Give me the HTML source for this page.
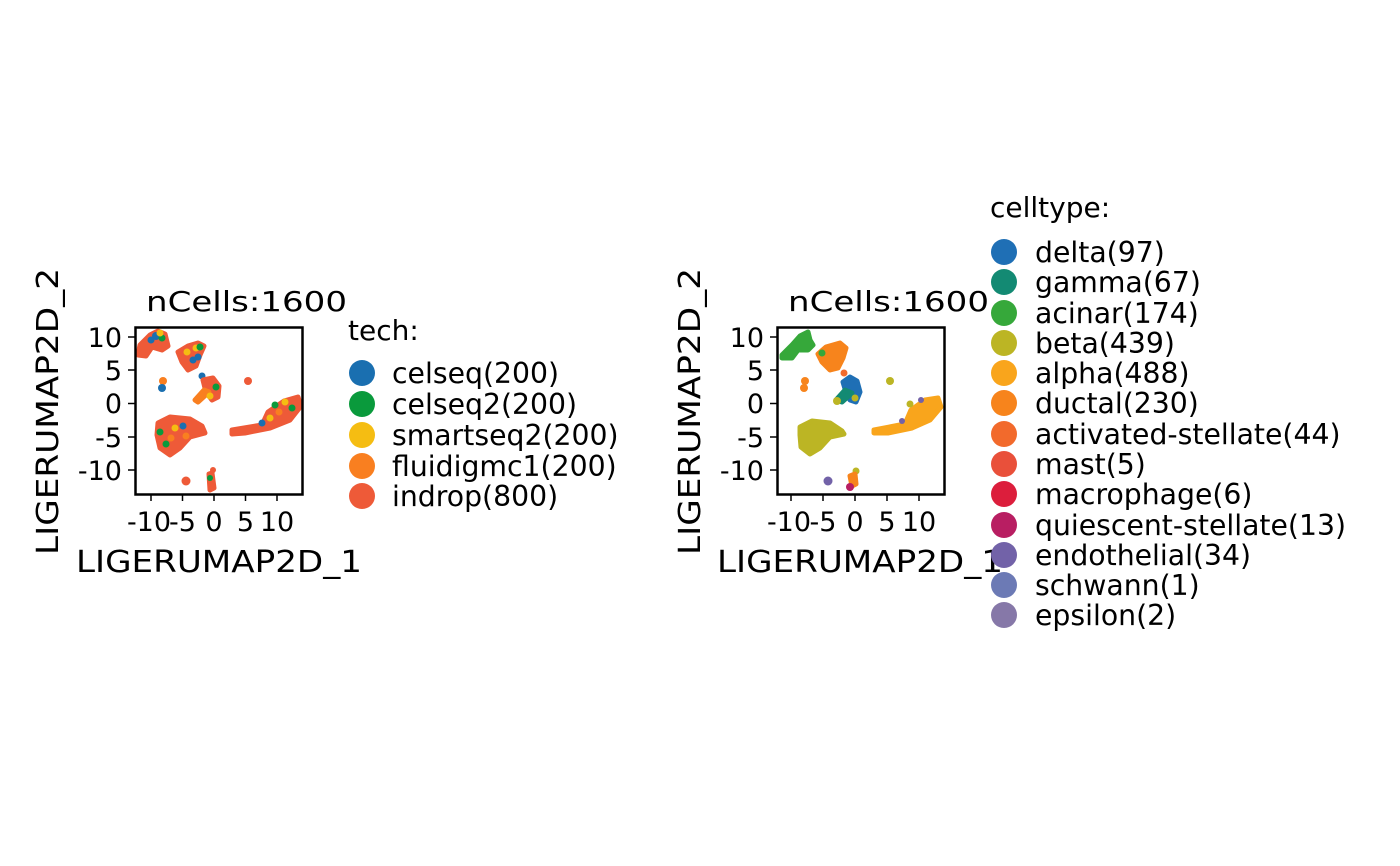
<!DOCTYPE html>
<html><head><meta charset="utf-8"><style>
html,body{margin:0;padding:0;background:#fff}
svg{display:block;font-family:"DejaVu Sans","Liberation Sans",sans-serif}
</style></head><body>
<svg width="1400" height="866" viewBox="0 0 1400 866" xmlns="http://www.w3.org/2000/svg">
<!-- LEFT PANEL -->
<g>
<text x="146" y="311" font-size="28" textLength="201" lengthAdjust="spacingAndGlyphs">nCells:1600</text>
<g stroke-linejoin="round" stroke-width="5">
<path d="M140,345 L150,335 L158,331 L165,334 L168,346 L162,350 L152,347 L146,356 L138,355 Z" fill="#ee5a38" stroke="#ee5a38"/>
<circle cx="156" cy="336" r="4" fill="#1a6fb0"/><circle cx="162" cy="338" r="3.5" fill="#0a9a3c"/><circle cx="160" cy="333" r="3.5" fill="#f5bd12"/><circle cx="151" cy="340" r="3.5" fill="#1a6fb0"/>
<path d="M178,352 L188,346 L198,343 L204,346 L200,355 L196,366 L188,370 L182,362 Z" fill="#ee5a38" stroke="#ee5a38"/>
<circle cx="196" cy="348" r="3.5" fill="#f5bd12"/><circle cx="200" cy="347" r="3.5" fill="#0a9a3c"/><circle cx="193" cy="360" r="3.5" fill="#1a6fb0"/><circle cx="198" cy="357" r="3.5" fill="#1a6fb0"/><circle cx="187" cy="352" r="3.5" fill="#f5bd12"/>
<circle cx="163" cy="381" r="4" fill="#f97f20"/><circle cx="162" cy="388" r="4" fill="#1a6fb0"/>
<circle cx="202" cy="376" r="3.5" fill="#1a6fb0"/>
<path d="M203,380 L213,378 L219,386 L218,397 L212,400 L206,392 Z" fill="#ee5a38" stroke="#ee5a38"/>
<path d="M195,400 L204,390 L209,392 L198,402 Z" fill="#f97f20" stroke="#f97f20"/>
<circle cx="216" cy="387" r="3.5" fill="#0a9a3c"/><circle cx="210" cy="396" r="3.5" fill="#f5bd12"/>
<path d="M158,423 L170,417 L190,419 L202,426 L205,433 L190,437 L180,448 L170,455 L160,448 L157,435 Z" fill="#ee5a38" stroke="#ee5a38"/>
<circle cx="175" cy="428" r="3.5" fill="#f5bd12"/><circle cx="186" cy="436" r="3.5" fill="#f97f20"/><circle cx="166" cy="444" r="3.5" fill="#0a9a3c"/><circle cx="183" cy="426" r="3.5" fill="#1a6fb0"/><circle cx="160" cy="432" r="3.5" fill="#0a9a3c"/><circle cx="171" cy="438" r="3.5" fill="#f97f20"/>
<path d="M232,430 L262,425 L268,412 L284,401 L298,397 L301,406 L290,420 L270,428 L245,433 L232,434 Z" fill="#ee5a38" stroke="#ee5a38"/>
<circle cx="275" cy="405" r="3.5" fill="#0a9a3c"/><circle cx="285" cy="402" r="3.5" fill="#f5bd12"/><circle cx="270" cy="418" r="3.5" fill="#f5bd12"/><circle cx="292" cy="408" r="3.5" fill="#0a9a3c"/><circle cx="279" cy="412" r="3.5" fill="#f97f20"/><circle cx="262" cy="423" r="3.5" fill="#1a6fb0"/>
<circle cx="248" cy="381" r="4" fill="#ee5a38"/>
<circle cx="186" cy="481" r="4.5" fill="#ee5a38"/>
<path d="M209,474 L212,473 L214,488 L210,490 Z" fill="#ee5a38" stroke="#ee5a38"/><circle cx="213" cy="470" r="3" fill="#ee5a38"/><circle cx="210" cy="478" r="3" fill="#0a9a3c"/>
</g>
<rect x="135.5" y="327.5" width="167" height="167" fill="none" stroke="#000" stroke-width="2.5"/>
<g stroke="#000" stroke-width="1.5">
<line x1="128" y1="337" x2="135" y2="337"/><line x1="128" y1="370" x2="135" y2="370"/><line x1="128" y1="403.5" x2="135" y2="403.5"/><line x1="128" y1="437" x2="135" y2="437"/><line x1="128" y1="470" x2="135" y2="470"/>
<line x1="151" y1="494" x2="151" y2="501"/><line x1="182.5" y1="494" x2="182.5" y2="501"/><line x1="214" y1="494" x2="214" y2="501"/><line x1="245.5" y1="494" x2="245.5" y2="501"/><line x1="277" y1="494" x2="277" y2="501"/>
</g>
<g font-size="27" text-anchor="end">
<text x="122" y="347">10</text><text x="122" y="380">5</text><text x="122" y="413">0</text><text x="122" y="447">-5</text><text x="122" y="480">-10</text>
</g>
<g font-size="27" text-anchor="middle">
<text x="149" y="531">-10</text><text x="182.5" y="531">-5</text><text x="214" y="531">0</text><text x="245.5" y="531">5</text><text x="277" y="531">10</text>
</g>
<text x="76" y="572" font-size="30" textLength="286" lengthAdjust="spacingAndGlyphs">LIGERUMAP2D_1</text>
<text transform="translate(58,555) rotate(-90)" font-size="30" textLength="287" lengthAdjust="spacingAndGlyphs">LIGERUMAP2D_2</text>
<text x="348" y="340" font-size="28">tech:</text>
<g font-size="28.3">
<circle cx="362" cy="373" r="13" fill="#1a6fb0"/><text x="392" y="383">celseq(200)</text>
<circle cx="362" cy="404" r="13" fill="#0a9a3c"/><text x="392" y="414">celseq2(200)</text>
<circle cx="362" cy="435" r="13" fill="#f5bd12"/><text x="392" y="445">smartseq2(200)</text>
<circle cx="362" cy="466" r="13" fill="#f97f20"/><text x="392" y="476">fluidigmc1(200)</text>
<circle cx="362" cy="496" r="13" fill="#ee5a38"/><text x="392" y="506">indrop(800)</text>
</g>
</g>
<!-- RIGHT PANEL -->
<g>
<text x="788" y="311" font-size="28" textLength="201" lengthAdjust="spacingAndGlyphs">nCells:1600</text>
<g stroke-linejoin="round" stroke-width="5">
<path d="M782,355 L792,345 L800,336 L808,332 L810,340 L813,345 L808,350 L798,350 L792,358 L782,358 Z" fill="#36a83a" stroke="#36a83a"/>
<path d="M818,354 L826,347 L840,343 L846,348 L843,358 L838,368 L830,370 L822,362 Z" fill="#f7841c" stroke="#f7841c"/>
<circle cx="822" cy="353" r="3.5" fill="#36a83a"/>
<circle cx="805" cy="381" r="4" fill="#f7841c"/><circle cx="804" cy="388" r="4" fill="#f7841c"/>
<circle cx="844" cy="373" r="3.5" fill="#f26a2c"/>
<path d="M843,382 L850,377 L857,381 L860,392 L856,402 L850,400 L846,392 Z" fill="#1f6fb5" stroke="#1f6fb5"/>
<path d="M836,400 L845,390 L852,393 L842,402 Z" fill="#138a73" stroke="#138a73"/>
<circle cx="837" cy="401" r="4" fill="#bcb524"/><circle cx="855" cy="398" r="3.5" fill="#bcb524"/>
<path d="M800,427 L812,421 L830,423 L842,431 L844,434 L830,437 L820,448 L810,454 L801,447 L800,435 Z" fill="#bcb524" stroke="#bcb524"/>
<path d="M874,430 L905,424 L911,410 L925,400 L938,398 L941,407 L930,420 L912,428 L888,433 L874,433 Z" fill="#f9a51c" stroke="#f9a51c"/>
<circle cx="910" cy="404" r="3.5" fill="#bcb524"/><circle cx="921" cy="400" r="3" fill="#7262a8"/><circle cx="902" cy="421" r="3" fill="#7262a8"/>
<circle cx="890" cy="381" r="4" fill="#bcb524"/>
<circle cx="828" cy="481" r="4.5" fill="#7262a8"/>
<circle cx="856" cy="471" r="3.5" fill="#bcb524"/><path d="M850,476 L855,474 L856,484 L852,486 Z" fill="#f7841c" stroke="#f7841c"/><circle cx="850" cy="487" r="4" fill="#b81e62"/>
</g>
<rect x="777.5" y="327.5" width="167" height="167" fill="none" stroke="#000" stroke-width="2.5"/>
<g stroke="#000" stroke-width="1.5">
<line x1="770" y1="337" x2="777" y2="337"/><line x1="770" y1="370" x2="777" y2="370"/><line x1="770" y1="403.5" x2="777" y2="403.5"/><line x1="770" y1="437" x2="777" y2="437"/><line x1="770" y1="470" x2="777" y2="470"/>
<line x1="791" y1="494" x2="791" y2="501"/><line x1="823" y1="494" x2="823" y2="501"/><line x1="855" y1="494" x2="855" y2="501"/><line x1="887" y1="494" x2="887" y2="501"/><line x1="919" y1="494" x2="919" y2="501"/>
</g>
<g font-size="27" text-anchor="end">
<text x="764" y="347">10</text><text x="764" y="380">5</text><text x="764" y="413">0</text><text x="764" y="447">-5</text><text x="764" y="480">-10</text>
</g>
<g font-size="27" text-anchor="middle">
<text x="789" y="531">-10</text><text x="823" y="531">-5</text><text x="855" y="531">0</text><text x="887" y="531">5</text><text x="919" y="531">10</text>
</g>
<text x="717" y="572" font-size="30" textLength="286" lengthAdjust="spacingAndGlyphs">LIGERUMAP2D_1</text>
<text transform="translate(700,555) rotate(-90)" font-size="30" textLength="287" lengthAdjust="spacingAndGlyphs">LIGERUMAP2D_2</text>
<text x="990" y="217" font-size="28">celltype:</text>
<g font-size="28.3">
<circle cx="1004" cy="252" r="13" fill="#1f6fb5"/><text x="1035" y="262">delta(97)</text>
<circle cx="1004" cy="282" r="13" fill="#138a73"/><text x="1035" y="292">gamma(67)</text>
<circle cx="1004" cy="313" r="13" fill="#36a83a"/><text x="1035" y="323">acinar(174)</text>
<circle cx="1004" cy="343" r="13" fill="#bcb524"/><text x="1035" y="353">beta(439)</text>
<circle cx="1004" cy="373" r="13" fill="#f9a51c"/><text x="1035" y="383">alpha(488)</text>
<circle cx="1004" cy="403" r="13" fill="#f7841c"/><text x="1035" y="413">ductal(230)</text>
<circle cx="1004" cy="434" r="13" fill="#f26a2c"/><text x="1035" y="444">activated-stellate(44)</text>
<circle cx="1004" cy="464" r="13" fill="#e9503a"/><text x="1035" y="474">mast(5)</text>
<circle cx="1004" cy="494" r="13" fill="#dc1e3c"/><text x="1035" y="504">macrophage(6)</text>
<circle cx="1004" cy="525" r="13" fill="#b81e62"/><text x="1035" y="535">quiescent-stellate(13)</text>
<circle cx="1004" cy="555" r="13" fill="#7262a8"/><text x="1035" y="565">endothelial(34)</text>
<circle cx="1004" cy="585" r="13" fill="#6c7ab5"/><text x="1035" y="595">schwann(1)</text>
<circle cx="1004" cy="615" r="13" fill="#8678a8"/><text x="1035" y="625">epsilon(2)</text>
</g>
</g>
</svg>
</body></html>
